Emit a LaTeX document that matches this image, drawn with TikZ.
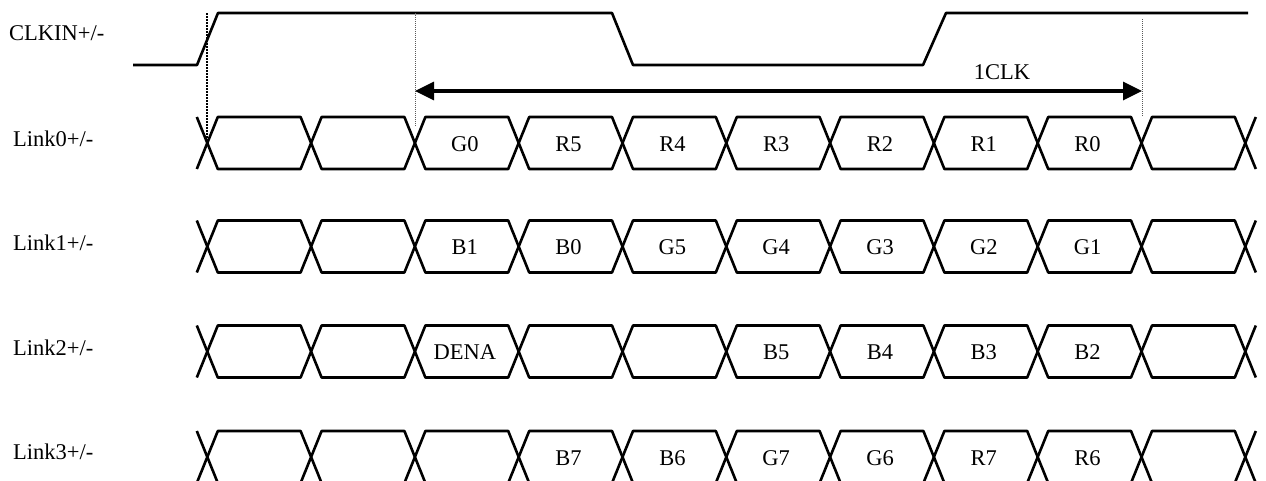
\documentclass[tikz,border=0pt]{standalone}
\usepackage{fontspec}
\setmainfont{Liberation Serif}
\usetikzlibrary{arrows.meta}
\begin{document}
\begin{tikzpicture}[x=1pt,y=-1pt,
  wave/.style={line width=2.6pt,line join=round},
  celltext/.style={anchor=base,inner sep=0pt,font=\fontsize{22.5pt}{27pt}\selectfont},
  sig/.style={anchor=base west,inner sep=0pt,font=\fontsize{22.5pt}{27pt}\selectfont},
  guide/.style={line width=0.8pt,gray!70!black,dash pattern=on 1pt off 1pt},
  edgeguide/.style={line width=2pt,dash pattern=on 1.5pt off 1.5pt},
  span/.style={line width=3.4pt,{Triangle[length=19pt,width=18pt]}-{Triangle[length=19pt,width=18pt]}}]
\useasboundingbox (0,0) rectangle (1266,480);
\def\xz{207.3}\def\per{103.8}\def\hw{10.5}\def\hh{26}
% signal names
\node[sig] (clkname) at (9,40.7) {CLKIN+/-};
\node[sig] (l0name) at (13,146.7) {Link0+/-};
\node[sig] (l1name) at (13,250.2) {Link1+/-};
\node[sig] (l2name) at (13,355.7) {Link2+/-};
\node[sig] (l3name) at (13,459.2) {Link3+/-};
% clock
\draw[wave] (133,65) -- (197,65) -- (218,13) -- (612,13) -- (633,65) -- (923,65) -- (946,13) -- (1248,13);
% guide lines
\coordinate (g0t) at (207,13); \coordinate (g0b) at (207,140);
\coordinate (g1t) at (415,13); \coordinate (g1b) at (415,127);
\coordinate (g2t) at (1142,19); \coordinate (g2b) at (1142,117);
\draw[edgeguide] (g0t) -- (g0b);
\draw[guide] (g1t) -- (g1b);
\draw[guide] (g2t) -- (g2b);
% 1CLK span
\coordinate (sa) at (415,91); \coordinate (sb) at (1142,91);
\draw[span] (sa) -- (sb);
\node[celltext] (clktxt) at (1002,79) {1CLK};
% bus rows
\foreach \yc/\nm/\cells in {
  143/a/{2/G0,3/R5,4/R4,5/R3,6/R2,7/R1,8/R0},
  246.5/b/{2/B1,3/B0,4/G5,5/G4,6/G3,7/G2,8/G1},
  351.5/c/{2/DENA,5/B5,6/B4,7/B3,8/B2},
  457/d/{3/B7,4/B6,5/G7,6/G6,7/R7,8/R6}}{
  \foreach \i in {0,...,9}{
    \pgfmathsetmacro\xa{\xz+\per*\i}
    \pgfmathsetmacro\xb{\xz+\per*(\i+1)}
    \draw[wave] (\xa,\yc) -- (\xa+\hw,\yc-\hh) -- (\xb-\hw,\yc-\hh) -- (\xb,\yc)
      -- (\xb-\hw,\yc+\hh) -- (\xa+\hw,\yc+\hh) -- cycle;
  }
  \pgfmathsetmacro\xe{\xz+\per*10}
  \draw[wave] (\xz-\hw,\yc-\hh) -- (\xz,\yc) -- (\xz-\hw,\yc+\hh);
  \draw[wave] (\xe+\hw,\yc-\hh) -- (\xe,\yc) -- (\xe+\hw,\yc+\hh);
  \foreach \k/\t in \cells{
    \node[celltext] (\nm\k) at ({\xz+\per*(\k+0.5)-2},\yc+8) {\t};
  }
}
\end{tikzpicture}
\end{document}
